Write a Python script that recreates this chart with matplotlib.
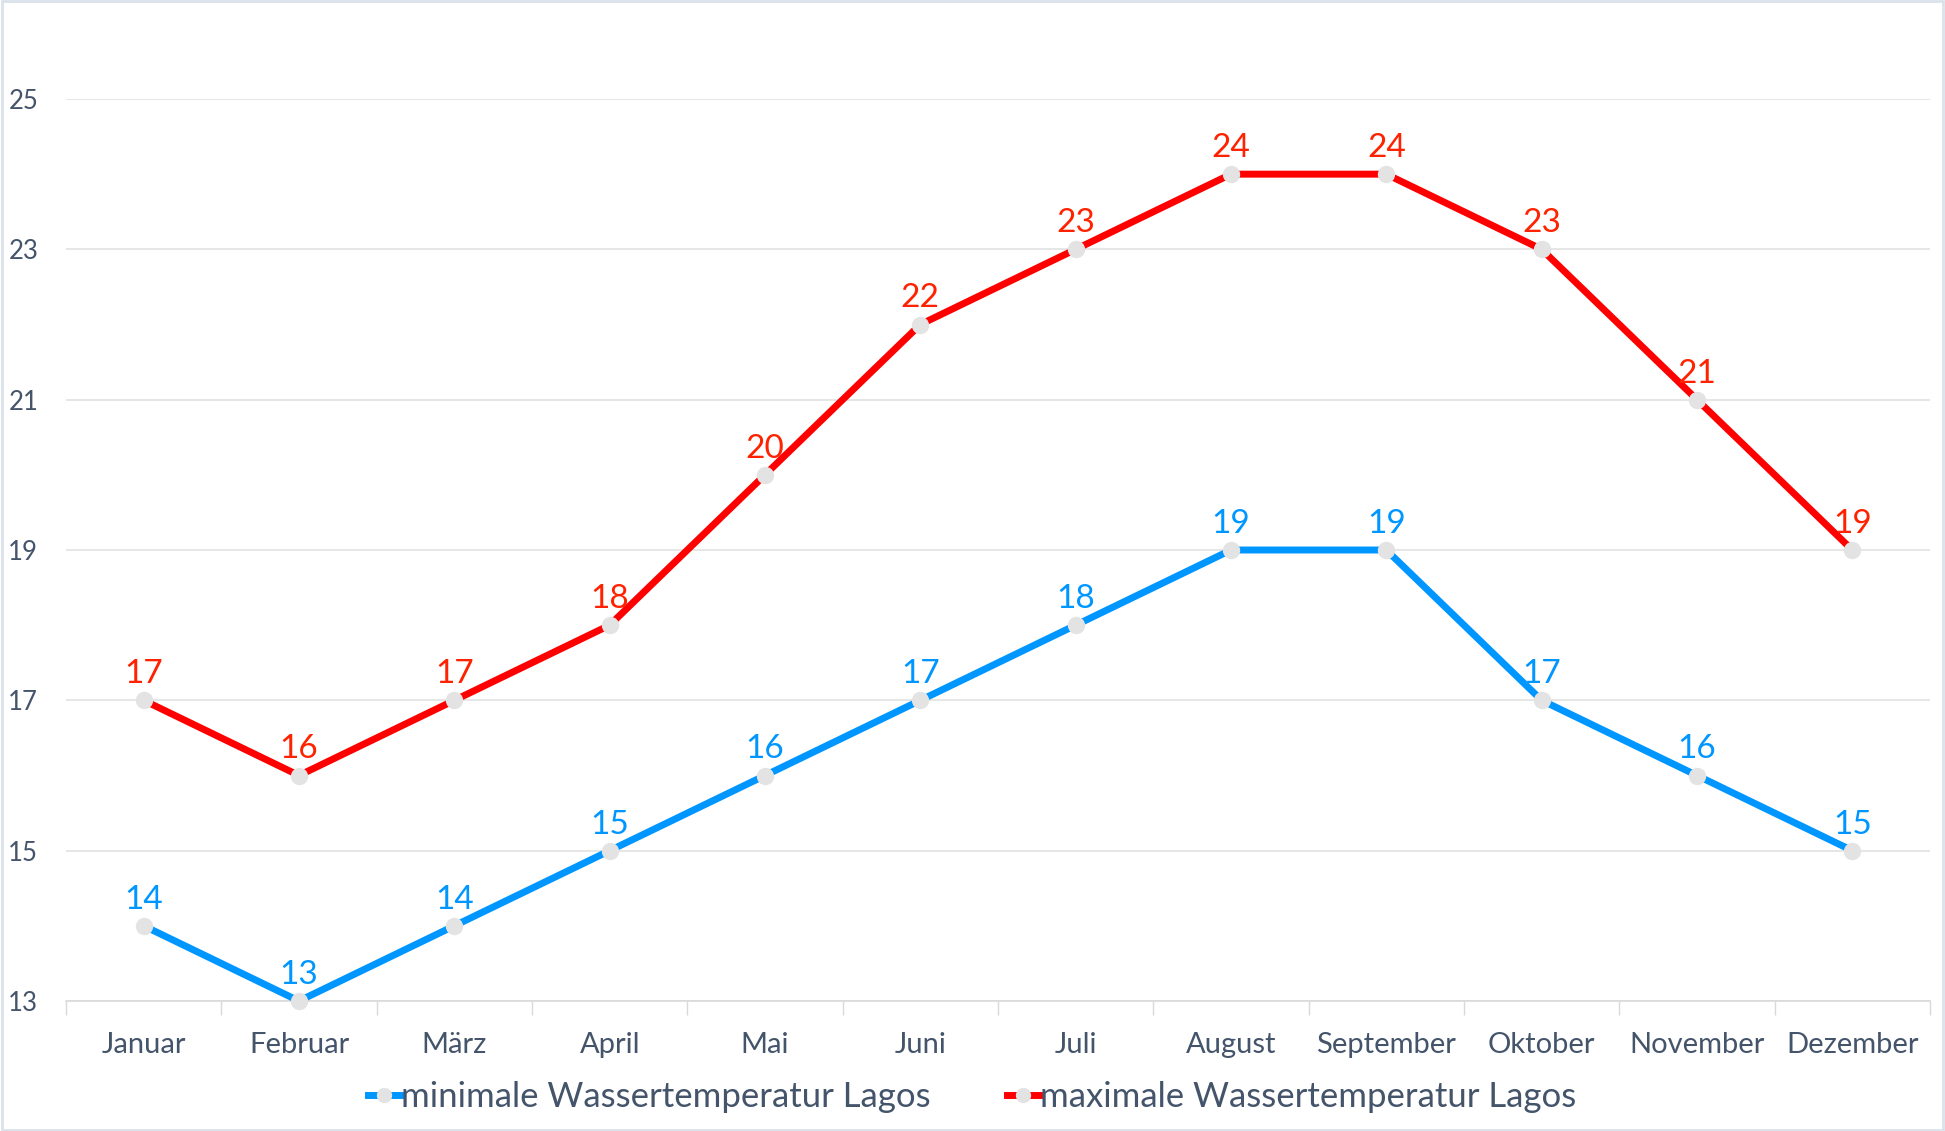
import matplotlib
matplotlib.use("Agg")
import matplotlib.pyplot as plt
from matplotlib.lines import Line2D
from matplotlib.patches import Rectangle
from matplotlib.ticker import FixedLocator

months = ["Januar", "Februar", "März", "April", "Mai", "Juni", "Juli",
          "August", "September", "Oktober", "November", "Dezember"]
min_temp = [14, 13, 14, 15, 16, 17, 18, 19, 19, 17, 16, 15]
max_temp = [17, 16, 17, 18, 20, 22, 23, 24, 24, 23, 21, 19]
y_ticks = [13, 15, 17, 19, 21, 23, 25]
series_names = ["minimale Wassertemperatur Lagos", "maximale Wassertemperatur Lagos"]

plt.rcParams['font.family'] = ['Lato', 'DejaVu Sans']

W, H = 1945, 1131
fig = plt.figure(figsize=(W / 100, H / 100), dpi=100)
fig.patch.set_facecolor('white')

left, right, top, bottom = 66, 1930, 99, 1001
ax = fig.add_axes([left / W, 1 - bottom / H, (right - left) / W, (bottom - top) / H])

txt_col = '#44546A'
grid_col = '#E1E1E1'
blue = '#0096FF'
red = '#FF0000'
blue_lbl = '#0096FF'
red_lbl = '#FF2200'
marker_col = '#E3E3E3'

x = list(range(len(months)))
ax.plot(x, min_temp, color=blue, lw=5, marker='o', ms=11.5,
        mfc=marker_col, mec=marker_col, clip_on=False, zorder=3,
        solid_joinstyle='round')
ax.plot(x, max_temp, color=red, lw=5, marker='o', ms=11.5,
        mfc=marker_col, mec=marker_col, clip_on=False, zorder=3,
        solid_joinstyle='round')

for xi, v in zip(x, min_temp):
    ax.annotate(str(v), (xi, v), xytext=(0, 8), textcoords='offset points',
                ha='center', va='bottom', color=blue_lbl, fontsize=24)
for xi, v in zip(x, max_temp):
    ax.annotate(str(v), (xi, v), xytext=(0, 8), textcoords='offset points',
                ha='center', va='bottom', color=red_lbl, fontsize=24)

ax.set_xlim(-0.5, len(months) - 0.5)
ax.set_ylim(13, 25)
ax.set_yticks(y_ticks)
ax.set_yticklabels([str(t) for t in y_ticks])
ax.set_xticks(x)
ax.set_xticklabels(months)
ax.xaxis.set_minor_locator(FixedLocator([i - 0.5 for i in range(len(months) + 1)]))
ax.tick_params(axis='x', which='major', length=0, pad=22, labelsize=21, labelcolor=txt_col)
ax.tick_params(axis='x', which='minor', length=10, width=1, color='#D9D9D9')
ax.tick_params(axis='y', length=0, pad=20, labelsize=18.5, labelcolor=txt_col)

ax.grid(axis='y', color=grid_col, lw=1.2)
ax.set_axisbelow(True)
for s in ['top', 'right', 'left']:
    ax.spines[s].set_visible(False)
ax.spines['bottom'].set_color('#D9D9D9')
ax.spines['bottom'].set_linewidth(1.2)

handles = [
    Line2D([], [], color=blue, lw=5, marker='o', ms=10, mfc=marker_col, mec=marker_col),
    Line2D([], [], color=red, lw=5, marker='o', ms=10, mfc=marker_col, mec=marker_col),
]
leg = fig.legend(handles, series_names, loc='center', bbox_to_anchor=(0.5, 1 - 1097 / H),
                 ncol=2, frameon=False, fontsize=25, handlelength=0.9,
                 handletextpad=0.05, columnspacing=2.2, labelcolor=txt_col)

fig.patches.append(Rectangle((0.0008, 0.0012), 0.9984, 0.9976, transform=fig.transFigure,
                             fill=False, edgecolor='#DCE2EA', lw=2))

fig.savefig('out.png', dpi=100, facecolor='white')
